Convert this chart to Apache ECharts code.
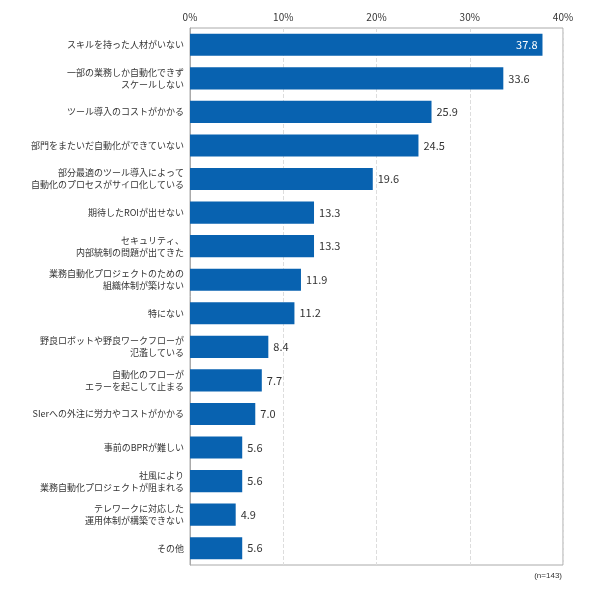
<!DOCTYPE html>
<html><head><meta charset="utf-8">
<script src="https://cdn.jsdelivr.net/npm/echarts@6/dist/echarts.min.js"></script>
<style>html,body{margin:0;padding:0;background:#fff}#c{width:590px;height:590px}</style>
</head><body><div id="c"></div>
<script>
var categories = [
  'スキルを持った人材がいない',
  '一部の業務しか自動化できず\nスケールしない',
  'ツール導入のコストがかかる',
  '部門をまたいだ自動化ができていない',
  '部分最適のツール導入によって\n自動化のプロセスがサイロ化している',
  '期待したROIが出せない',
  'セキュリティ、\n内部統制の問題が出てきた',
  '業務自動化プロジェクトのための\n組織体制が築けない',
  '特にない',
  '野良ロボットや野良ワークフローが\n氾濫している',
  '自動化のフローが\nエラーを起こして止まる',
  'SIerへの外注に労力やコストがかかる',
  '事前のBPRが難しい',
  '社風により\n業務自動化プロジェクトが阻まれる',
  'テレワークに対応した\n運用体制が構築できない',
  'その他'
];
var values = [37.8, 33.6, 25.9, 24.5, 19.6, 13.3, 13.3, 11.9, 11.2, 8.4, 7.7, 7.0, 5.6, 5.6, 4.9, 5.6];
var font = '"Noto Sans CJK JP", sans-serif';
var chart = echarts.init(document.getElementById('c'));
chart.setOption({
  animation: false,
  grid: { left: 190, right: 27, top: 28, bottom: 25, show: true, borderColor: '#aaa', borderWidth: 1 },
  xAxis: {
    type: 'value', position: 'top', min: 0, max: 40, interval: 10,
    axisLabel: { formatter: '{value}%', color: '#333', fontSize: 10, fontFamily: font, margin: 6 },
    axisLine: { show: false }, axisTick: { show: false },
    splitLine: { lineStyle: { type: 'dashed', color: '#ddd' } }
  },
  yAxis: {
    type: 'category', inverse: true, data: categories,
    axisLine: { lineStyle: { color: '#aaa' } }, axisTick: { show: false },
    axisLabel: { color: '#333', fontSize: 9, fontFamily: font, lineHeight: 12, margin: 6 }
  },
  series: [{
    type: 'bar', data: values.map(function (v, i) {
      return { value: v, label: i === 0 ? { position: 'insideRight', color: '#fff' } : {} };
    }),
    barCategoryGap: '34%',
    itemStyle: { color: '#0862b0' },
    label: { show: true, position: 'right', color: '#333', fontSize: 11, fontFamily: font,
      formatter: function (p) { return p.value.toFixed(1); } }
  }],
  graphic: [{ type: 'text', right: 28, top: 572, style: { text: '(n=143)', fontSize: 8, fill: '#333', font: '8px ' + font } }]
});
</script></body></html>
